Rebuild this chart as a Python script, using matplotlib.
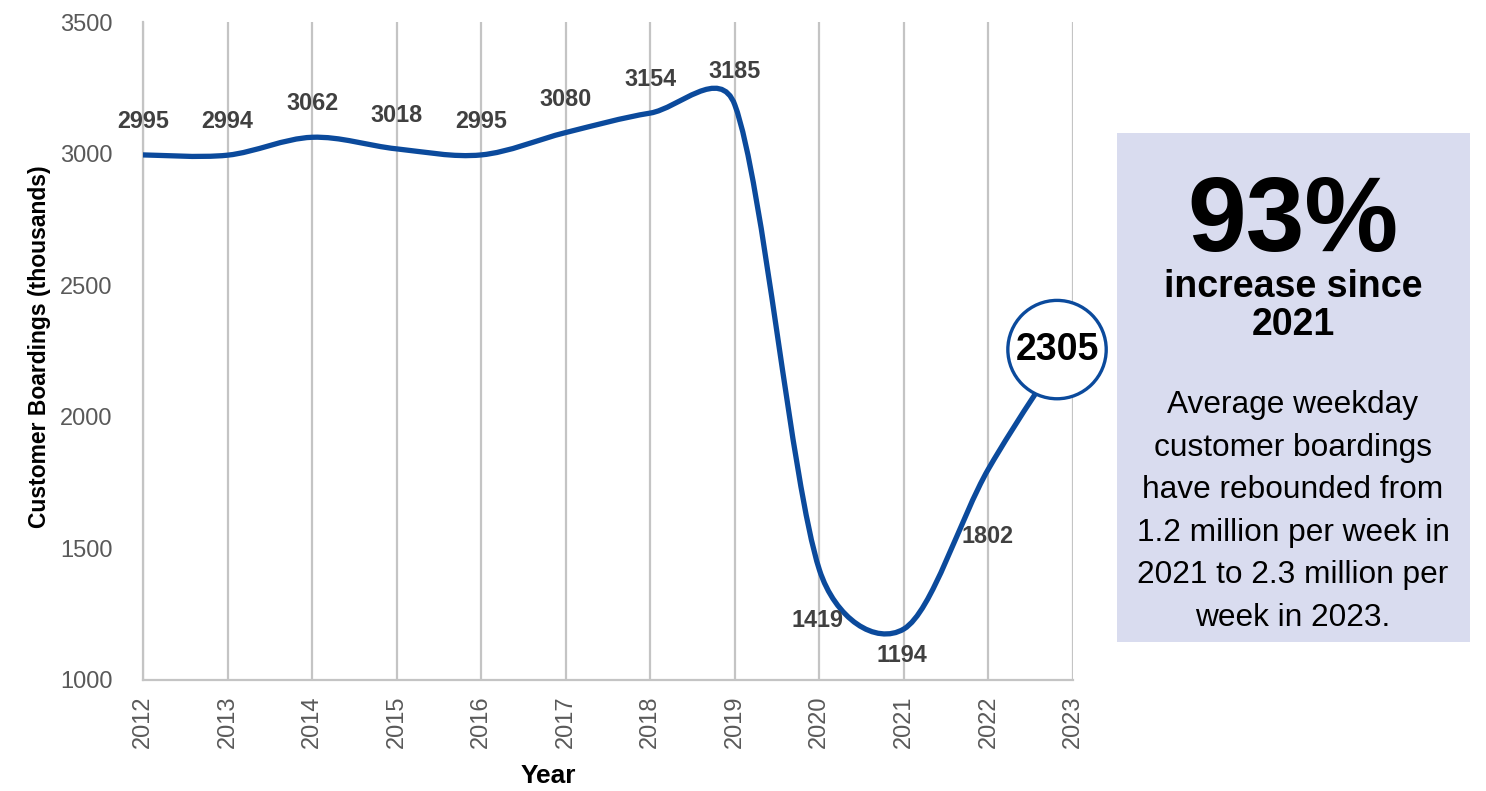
import matplotlib
matplotlib.use('Agg')
import matplotlib.pyplot as plt
import numpy as np
from matplotlib.path import Path
from matplotlib.patches import PathPatch, Rectangle

plt.rcParams['font.family'] = ['Liberation Sans', 'DejaVu Sans']

# average weekday customer boardings (thousands)
years = [2012, 2013, 2014, 2015, 2016, 2017, 2018, 2019, 2020, 2021, 2022, 2023]
boardings = [2995, 2994, 3062, 3018, 2995, 3080, 3154, 3185, 1419, 1194, 1802, 2305]

# label offsets in points (last point gets the circle callout)
lbl_off = [(0, 24)] * 8 + [(-1.4, -36.7), (-1.4, -19.4), (-0.7, -49)]

side_big = '93%'
side_sub = ['increase since', '2021']
side_text = ['Average weekday', 'customer boardings', 'have rebounded from',
             '1.2 million per week in', '2021 to 2.3 million per', 'week in 2023.']

blue = '#0b4a9c'
W, H = 1486, 791


def smooth_path(x, y, sx, sy, f=1/6):
    # bezier smoothing like a spreadsheet "smoothed line", tangents capped
    px = np.asarray(x, float) * sx
    py = np.asarray(y, float) * sy
    P = np.column_stack([px, py])
    n = len(P)
    verts = [P[0]]
    for i in range(n - 1):
        p0, p1, p2, p3 = P[max(i - 1, 0)], P[i], P[i + 1], P[min(i + 2, n - 1)]
        d12 = np.hypot(*(p2 - p1))
        d02 = np.hypot(*(p2 - p0))
        d13 = np.hypot(*(p3 - p1))
        f1 = f if d02 * f <= d12 / 2 else d12 / 2 / d02
        f2 = f if d13 * f <= d12 / 2 else d12 / 2 / d13
        verts += [p1 + (p2 - p0) * f1, p2 - (p3 - p1) * f2, p2]
    verts = np.array(verts) / [sx, sy]
    codes = [Path.MOVETO] + [Path.CURVE4] * (3 * (n - 1))
    return Path(verts, codes)


fig = plt.figure(figsize=(W / 100, H / 100), dpi=100)
ax = fig.add_axes([143 / W, 1 - 680 / H, 930 / W, 658 / H])

ax.set_xlim(2012, 2023)
ax.set_ylim(1000, 3500)

# pixels per unit, so the smoothing works in screen space
sx = 930 / 11
sy = 658 / 2500
line = PathPatch(smooth_path(years, boardings, sx, sy), fc='none', ec=blue,
                 lw=3.8, capstyle='round', joinstyle='round', zorder=3)
ax.add_patch(line)

for xv, yv, off in zip(years[:-1], boardings[:-1], lbl_off):
    ax.annotate(str(yv), xy=(xv, yv), xytext=off, textcoords='offset points',
                ha='center', va='center', fontsize=16.8,
                fontweight='bold', color='#404040', zorder=4)

ax.annotate(str(boardings[-1]), xy=(years[-1], boardings[-1]), xytext=(-11.5, -9.4),
            textcoords='offset points', ha='center', va='center',
            fontsize=27, fontweight='bold', color='black', zorder=6,
            annotation_clip=False,
            bbox=dict(boxstyle='circle,pad=0.2', fc='white', ec=blue, lw=2.4))

ax.set_xticks(years)
ax.set_xticklabels([str(y) for y in years], rotation=90)
ax.set_yticks(np.arange(1000, 3501, 500))
ax.tick_params(length=0, colors='#595959', labelsize=17)
ax.tick_params(axis='x', pad=11)
ax.tick_params(axis='y', pad=22)

ax.grid(axis='x', color='#c4c4c4', lw=1.6)
ax.set_axisbelow(True)
for s in ['top', 'right']:
    ax.spines[s].set_visible(False)
for s in ['left', 'bottom']:
    ax.spines[s].set_color('#c4c4c4')
    ax.spines[s].set_linewidth(1.6)

fig.text(40 / W, 1 - 347 / H, 'Customer Boardings (thousands)', rotation=90,
         ha='center', va='center', fontsize=16.5, fontweight='bold')
fig.text(548 / W, 1 - 776 / H, 'Year', ha='center', va='center',
         fontsize=19, fontweight='bold')

# summary panel on the right
fig.add_artist(Rectangle((1117 / W, 1 - 642 / H), 353 / W, 509 / H,
                         transform=fig.transFigure, fc='#d9dcef', ec='none'))
cx = 1293 / W
fig.text(cx, 1 - 251 / H, side_big, ha='center', va='baseline',
         fontsize=76, fontweight='bold')
for k, s in enumerate(side_sub):
    fig.text(cx, 1 - (297 + 38 * k) / H, s, ha='center', va='baseline',
             fontsize=27, fontweight='bold')
for k, s in enumerate(side_text):
    fig.text(cx, 1 - (413 + 42.6 * k) / H, s, ha='center', va='baseline',
             fontsize=22.8)

fig.savefig('out.png', dpi=100)
